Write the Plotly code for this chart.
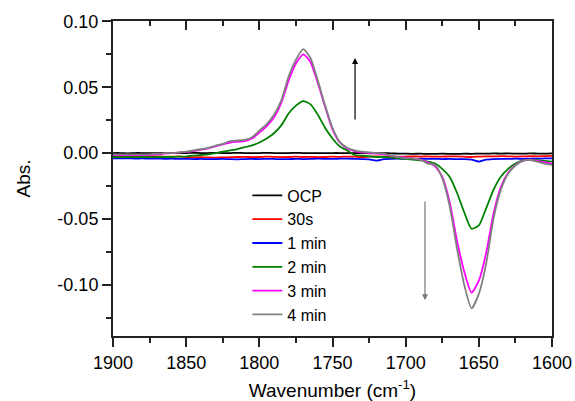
import plotly.graph_objects as go

# wavenumber grid (cm-1), shared by all spectra
wavenumber = [1900, 1895, 1890, 1885, 1880, 1875, 1870, 1865, 1860, 1855,
              1850, 1845, 1840, 1835, 1830, 1825, 1820, 1815, 1810, 1805,
              1800, 1795, 1790, 1785, 1780, 1775, 1770, 1765, 1760, 1755,
              1750, 1745, 1740, 1735, 1730, 1725, 1720, 1715, 1710, 1705,
              1700, 1695, 1690, 1685, 1680, 1675, 1670, 1665, 1660, 1655,
              1650, 1645, 1640, 1635, 1630, 1625, 1620, 1615, 1610, 1605,
              1600]

abs_ocp = [0.0000, 0.0000, -0.0002, 0.0000, 0.0000, -0.0001, 0.0000, 0.0001, 0.0000, 0.0000,
           0.0000, 0.0001, 0.0000, 0.0000, 0.0001, 0.0000, 0.0000, 0.0001, 0.0000, 0.0000,
           0.0000, 0.0001, 0.0000, 0.0000, 0.0000, 0.0001, 0.0000, 0.0000, 0.0000, -0.0001,
           0.0000, 0.0000, -0.0001, 0.0000, 0.0000, -0.0002, -0.0001, 0.0000, -0.0003, -0.0004,
           -0.0005, -0.0006, -0.0005, -0.0007, -0.0006, -0.0005, -0.0006, -0.0007, -0.0005, -0.0006,
           -0.0004, -0.0005, -0.0003, -0.0004, -0.0003, -0.0004, -0.0005, -0.0003, -0.0004, -0.0005,
           -0.0003]

abs_30s = [-0.0022, -0.0024, -0.0023, -0.0025, -0.0024, -0.0026, -0.0025, -0.0027, -0.0028, -0.0026,
           -0.0030, -0.0033, -0.0031, -0.0034, -0.0035, -0.0033, -0.0032, -0.0030, -0.0029, -0.0031,
           -0.0030, -0.0028, -0.0029, -0.0031, -0.0030, -0.0028, -0.0030, -0.0029, -0.0031, -0.0030,
           -0.0028, -0.0029, -0.0027, -0.0028, -0.0030, -0.0028, -0.0026, -0.0027, -0.0029, -0.0028,
           -0.0027, -0.0025, -0.0027, -0.0026, -0.0028, -0.0027, -0.0025, -0.0026, -0.0028, -0.0030,
           -0.0027, -0.0025, -0.0026, -0.0024, -0.0025, -0.0027, -0.0026, -0.0024, -0.0025, -0.0023,
           -0.0022]

abs_1min = [-0.0040, -0.0041, -0.0040, -0.0042, -0.0041, -0.0043, -0.0042, -0.0044, -0.0043, -0.0045,
            -0.0044, -0.0046, -0.0045, -0.0047, -0.0046, -0.0045, -0.0047, -0.0048, -0.0046, -0.0045,
            -0.0046, -0.0044, -0.0045, -0.0047, -0.0046, -0.0044, -0.0046, -0.0045, -0.0043, -0.0044,
            -0.0045, -0.0043, -0.0042, -0.0044, -0.0046, -0.0048, -0.0058, -0.0047, -0.0044, -0.0043,
            -0.0045, -0.0044, -0.0043, -0.0045, -0.0044, -0.0046, -0.0045, -0.0047, -0.0046, -0.0050,
            -0.0065, -0.0050, -0.0046, -0.0044, -0.0045, -0.0043, -0.0044, -0.0042, -0.0043, -0.0041,
            -0.0040]

abs_2min = [-0.0030, -0.0031, -0.0030, -0.0031, -0.0030, -0.0031, -0.0030, -0.0030, -0.0030, -0.0028,
            -0.0025, -0.0020, -0.0015, -0.0010, 0.0000, 0.0010, 0.0020, 0.0030, 0.0045, 0.0058,
            0.0080, 0.0110, 0.0150, 0.0210, 0.0300, 0.0360, 0.0395, 0.0370, 0.0290, 0.0190,
            0.0110, 0.0050, 0.0020, -0.0015, -0.0020, -0.0025, -0.0030, -0.0030, -0.0035, -0.0040,
            -0.0045, -0.0050, -0.0055, -0.0065, -0.0080, -0.0120, -0.0180, -0.0300, -0.0450, -0.0575,
            -0.0550, -0.0420, -0.0280, -0.0180, -0.0120, -0.0080, -0.0055, -0.0050, -0.0055, -0.0060,
            -0.0065]

abs_3min = [-0.0015, -0.0015, -0.0015, -0.0015, -0.0015, -0.0015, -0.0010, -0.0005, 0.0000, 0.0003,
            0.0008, 0.0015, 0.0025, 0.0035, 0.0050, 0.0065, 0.0080, 0.0085, 0.0090, 0.0110,
            0.0155, 0.0205, 0.0270, 0.0380, 0.0550, 0.0680, 0.0750, 0.0690, 0.0530, 0.0350,
            0.0180, 0.0080, 0.0035, 0.0015, 0.0005, 0.0000, -0.0005, -0.0010, -0.0020, -0.0030,
            -0.0035, -0.0040, -0.0050, -0.0070, -0.0100, -0.0180, -0.0370, -0.0660, -0.0900, -0.1060,
            -0.0970, -0.0760, -0.0460, -0.0260, -0.0150, -0.0090, -0.0060, -0.0050, -0.0060, -0.0070,
            -0.0080]

abs_4min = [-0.0010, -0.0010, -0.0010, -0.0010, -0.0010, -0.0010, -0.0005, 0.0000, 0.0000, 0.0005,
            0.0010, 0.0020, 0.0030, 0.0040, 0.0055, 0.0070, 0.0090, 0.0095, 0.0100, 0.0120,
            0.0170, 0.0220, 0.0290, 0.0400, 0.0580, 0.0710, 0.0790, 0.0720, 0.0550, 0.0360,
            0.0190, 0.0085, 0.0040, 0.0020, 0.0010, 0.0005, 0.0000, -0.0005, -0.0020, -0.0030,
            -0.0040, -0.0040, -0.0050, -0.0080, -0.0090, -0.0190, -0.0400, -0.0720, -0.1000, -0.1180,
            -0.1070, -0.0840, -0.0500, -0.0280, -0.0157, -0.0095, -0.0060, -0.0053, -0.0066, -0.0080,
            -0.0090]

series = [
    ("OCP", abs_ocp, "#000000"),
    ("30s", abs_30s, "#ff0000"),
    ("1 min", abs_1min, "#0000ff"),
    ("2 min", abs_2min, "#008000"),
    ("3 min", abs_3min, "#ff00ff"),
    ("4 min", abs_4min, "#808080"),
]

x_ticks = [1900, 1850, 1800, 1750, 1700, 1650, 1600]
y_ticks = [-0.10, -0.05, 0.00, 0.05, 0.10]
y_labels = ["-0.10", "-0.05", "0.00", "0.05", "0.10"]

FONT = "Arial, Liberation Sans, sans-serif"
AX = "#222222"

fig = go.Figure()
for name, values, color in series:
    fig.add_trace(go.Scatter(
        x=wavenumber, y=values, mode="lines", name=name,
        line=dict(color=color, width=1.8, shape="spline", smoothing=0.6)
    ))

# hidden copy on the top axis so that its inward ticks get drawn
fig.add_trace(go.Scatter(x=wavenumber, y=abs_ocp, xaxis="x2", yaxis="y", mode="lines",
                         line=dict(color="rgba(0,0,0,0)", width=1), showlegend=False,
                         hoverinfo="skip"))

# arrows showing the direction of change
fig.add_annotation(x=1734.6, y=0.0722, ax=1734.6, ay=0.0243, xref="x", yref="y",
                   axref="x", ayref="y", text="", showarrow=True,
                   arrowhead=2, arrowsize=1, arrowwidth=1.2, arrowcolor="#000000")
fig.add_annotation(x=1686.8, y=-0.1118, ax=1686.8, ay=-0.0357, xref="x", yref="y",
                   axref="x", ayref="y", text="", showarrow=True,
                   arrowhead=2, arrowsize=1, arrowwidth=1.2, arrowcolor="#777777")

fig.update_layout(
    width=575, height=401,
    margin=dict(l=113, r=23, t=21, b=65),
    plot_bgcolor="white",
    paper_bgcolor="white",
    font=dict(family=FONT, color="#000000", size=18),
    showlegend=True,
    legend=dict(x=0.306, y=0.50, xanchor="left", yanchor="top",
                bgcolor="rgba(0,0,0,0)", font=dict(size=16), tracegroupgap=0),
    xaxis=dict(
        range=[1900, 1600], tickmode="array", tickvals=x_ticks,
        showline=True, linecolor=AX, linewidth=2, mirror=True, automargin=False,
        ticks="outside", ticklen=9, tickwidth=1.5, tickcolor=AX,
        minor=dict(ticks="outside", ticklen=5, tickmode="linear", tick0=1600, dtick=25,
                   tickcolor=AX, tickwidth=1.5),
        showgrid=False, zeroline=False,
        title=dict(text="Wavenumber (cm<sup>-1</sup>)", font=dict(size=19), standoff=13),
    ),
    xaxis2=dict(
        range=[1900, 1600], tickmode="array", tickvals=x_ticks, overlaying="x", side="top",
        anchor="y", showticklabels=False, automargin=False,
        showline=True, linecolor=AX, linewidth=2,
        ticks="inside", ticklen=9, tickwidth=1.5, tickcolor=AX,
        minor=dict(ticks="inside", ticklen=5, tickmode="linear", tick0=1600, dtick=25,
                   tickcolor=AX, tickwidth=1.5),
        showgrid=False, zeroline=False,
    ),
    yaxis=dict(
        range=[-0.139, 0.1003], tickmode="array", tickvals=y_ticks, ticktext=y_labels,
        showline=True, linecolor=AX, linewidth=2, mirror=True, automargin=False,
        ticks="outside", ticklen=9, tickwidth=1.5, tickcolor=AX,
        minor=dict(ticks="outside", ticklen=5, tickmode="linear", tick0=0, dtick=0.025,
                   tickcolor=AX, tickwidth=1.5),
        showgrid=False, zeroline=False,
        title=dict(text="Abs.", font=dict(size=19), standoff=22),
    ),
)

# the page body has a default 8px margin; remove it so the figure fills the window
fig.write_html("out.html", config={"displayModeBar": False},
               post_script="document.body.style.margin='0';")
